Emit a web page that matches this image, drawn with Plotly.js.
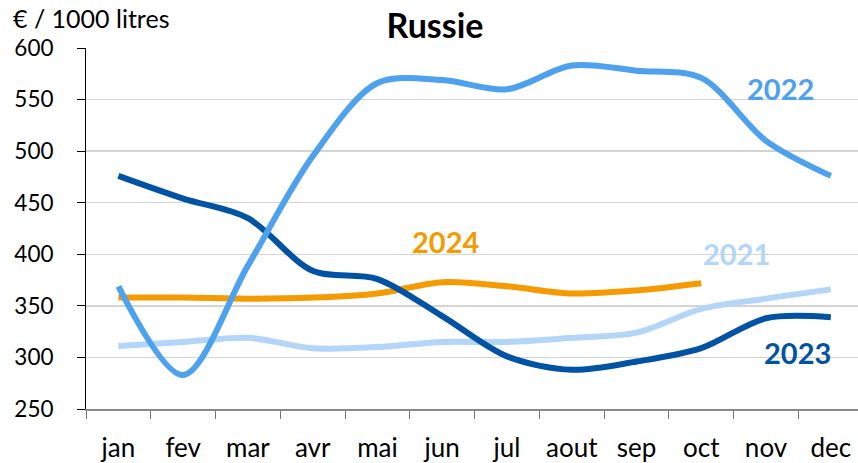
<!DOCTYPE html>
<html>
<head>
<meta charset="utf-8">
<script src="https://cdn.plot.ly/plotly-3.0.1.min.js"></script>
<style>html,body{margin:0;padding:0;background:#fff;}#chart{width:858px;height:463px;}</style>
</head>
<body>
<div id="chart"></div>
<script>
const months = ["jan","fev","mar","avr","mai","jun","jul","aout","sep","oct","nov","dec"];
const y2021 = [311, 315, 319, 309, 310, 315, 315, 319, 324, 347, 357, 366];
const y2022 = [369, 283, 389, 495, 566, 569, 560, 583, 578, 571, 510, 476];
const y2023 = [476, 454, 435, 384, 376, 340, 301, 288, 296, 309, 338, 339];
const y2024 = [358, 358, 357, 358, 362, 373, 369, 362, 365, 372];

const colors = {"2021":"#B2D5F8","2022":"#4DA1EE","2023":"#0053A4","2024":"#F59A00"};
const font = "Lato, 'Open Sans', sans-serif";

function tr(name, y){
  return {x: months.slice(0, y.length), y: y, type: "scatter", mode: "lines", name: name,
    line: {color: colors[name], width: 6, shape: "spline", smoothing: 0.9}, hoverinfo: "skip"};
}
const data = [tr("2021", y2021), tr("2024", y2024), tr("2023", y2023), tr("2022", y2022)];

const lbl = (t, x, y) => ({text: "<b>"+t+"</b>", x: x, y: y, xref: "x", yref: "y", showarrow: false,
  font: {family: font, size: 29, color: colors[t]}});

const layout = {
  width: 858, height: 463,
  margin: {l: 85.5, r: 0, t: 48, b: 54},
  paper_bgcolor: "#fff", plot_bgcolor: "#fff",
  showlegend: false,
  font: {family: font, color: "#000"},
  title: {text: "<b>Russie</b>", font: {family: font, size: 34, color: "#000"}, x: 0.507, xanchor: "center", y: 0.943, yanchor: "middle"},
  xaxis: {type: "category", range: [-0.5, 11.42], tickson: "boundaries", ticks: "outside", ticklen: 8,
    tickcolor: "#777", tickwidth: 1, showline: true, linecolor: "#888", linewidth: 2,
    showgrid: false, tickfont: {family: font, size: 26, color: "#000"}, ticklabelstandoff: 15,
    fixedrange: true},
  yaxis: {range: [250, 600], tickvals: [250,300,350,400,450,500,550,600], ticks: "outside", ticklen: 8,
    tickcolor: "#000", showline: true, linecolor: "#000", linewidth: 1, showgrid: true,
    gridcolor: "#d4d4d4", gridwidth: 1.5, zeroline: false,
    tickfont: {family: font, size: 22.5, color: "#000"}, ticklabelstandoff: 19, fixedrange: true},
  annotations: [
    {text: "€ / 1000 litres", xref: "paper", yref: "paper", x: -0.097, y: 1.0, xanchor: "left", yanchor: "bottom", yshift: 13,
     showarrow: false, font: {family: font, size: 25, color: "#000"}},
    lbl("2022", 10.22, 561),
    lbl("2024", 5.05, 412),
    lbl("2021", 9.55, 401),
    lbl("2023", 10.49, 305)
  ]
};
Plotly.newPlot("chart", data, layout, {displayModeBar: false, staticPlot: true});
</script>
</body>
</html>
